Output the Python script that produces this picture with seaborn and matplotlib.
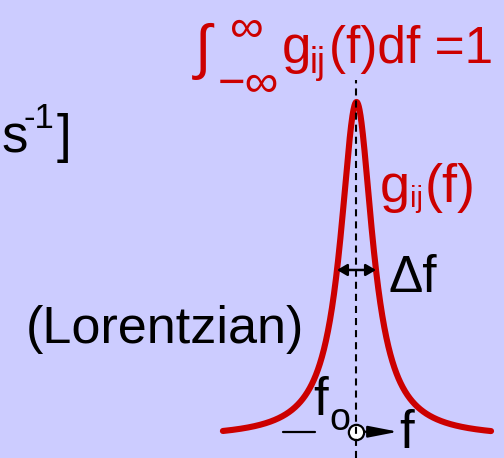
import numpy as np
import pandas as pd
import matplotlib
matplotlib.use("Agg")
import matplotlib.pyplot as plt
import seaborn as sns

# Lorentzian line-shape parameters (frequency in units of the half width)
f0 = 0.0            # line centre
delta_f = 2.0       # full width at half maximum
f_span = [-6.85, 6.9]
n_points = 800

BG = "#CCCCFF"
RED = "#CC0000"

hw = delta_f / 2
f = np.linspace(f0 + f_span[0], f0 + f_span[1], n_points)
g = (hw / np.pi) / ((f - f0) ** 2 + hw ** 2)
curve = pd.DataFrame({"f": f, "g": g})
g_peak = 1 / (np.pi * hw)
g_half = g_peak / 2
axis_y = g[0] - 0.0007

sns.set_style("white")
plt.rcParams["font.family"] = ["Liberation Sans", "DejaVu Sans"]

fig = plt.figure(figsize=(5.04, 4.58), dpi=100, facecolor=BG)
ax = fig.add_axes([0, 0, 1, 1])
ax.set_facecolor(BG)

sns.lineplot(data=curve, x="f", y="g", color=RED, lw=4.4, sort=False,
             ax=ax, zorder=2)

ax.set_xlim(-18.28, 7.564)
ax.set_ylim(-0.01895, 0.4149)
ax.axis("off")

# dashed line through the line centre
ax.plot([f0, f0], [-0.01895, 0.339], color="black", lw=1.5,
        dashes=(3.4, 2.4), zorder=5)

# frequency axis: short segment, centre marker and arrow
ax.plot([-3.77, -2.13], [axis_y, axis_y], color="black", lw=1.6, zorder=3)
ax.plot([f0], [axis_y], "o", ms=11, mfc="white", mec="black", mew=1.6, zorder=4)
ax.annotate("", xy=(2.13, axis_y), xytext=(0.45, axis_y),
            arrowprops=dict(arrowstyle="-|>,head_length=1.8,head_width=0.35",
                            mutation_scale=10, lw=1.6, color="black",
                            shrinkA=0, shrinkB=0), zorder=4)

# full width at half maximum
ax.annotate("", xy=(f0 + hw, g_half), xytext=(f0 - hw, g_half),
            arrowprops=dict(arrowstyle="<|-|>,head_length=0.6,head_width=0.35",
                            mutation_scale=10, lw=1.8, color="black",
                            shrinkA=0, shrinkB=0), zorder=6)


def put(x, y, s, size, color="black"):
    ax.text(x, y, s, color=color, fontsize=size, ha="left", va="baseline")


# normalisation condition
put(-8.28, 0.3515, "\u222b", 43, RED)
put(-6.49, 0.3751, "\u221e", 34, RED)
put(-7.10, 0.3230, "\u2212\u221e", 34, RED)
put(-3.82, 0.3553, "g", 38, RED)
put(-2.38, 0.3458, "ij", 26, RED)
put(-1.41, 0.3553, "(f)df =1", 37, RED)

# line-shape function label
put(1.205, 0.2236, "g", 39, RED)
put(2.74, 0.2188, "ij", 21, RED)
put(3.51, 0.2236, "(f)", 39, RED)

# unit fragment
put(-18.22, 0.2709, "s", 38)
put(-17.1, 0.2937, "-1", 25)
put(-15.4, 0.2709, "]", 38)

put(1.667, 0.1383, "\u0394f", 37)
put(-16.95, 0.090, "(Lorentzian)", 37.5)

# centre frequency and axis label
put(-2.23, 0.0218, "f", 38)
put(-1.41, 0.0076, "o", 27)
put(2.18, -0.0095, "f", 38)

fig.savefig("out.png", dpi=100, facecolor=BG)
